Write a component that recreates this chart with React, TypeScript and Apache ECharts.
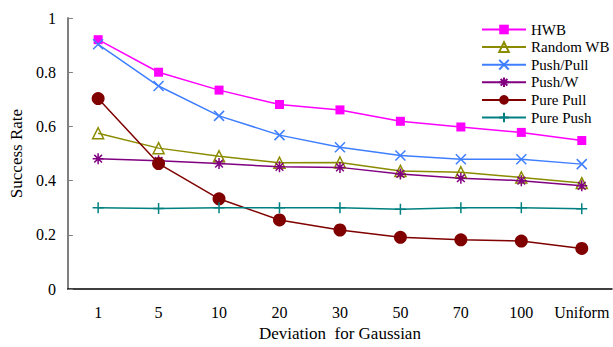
import React, { useEffect, useRef } from "react";
import * as echarts from "echarts";

const categories = ["1", "5", "10", "20", "30", "50", "70", "100", "Uniform"];
const hwb = [0.92, 0.8, 0.734, 0.681, 0.661, 0.619, 0.598, 0.578, 0.548];
const randomWB = [0.575, 0.52, 0.49, 0.466, 0.467, 0.436, 0.431, 0.412, 0.391];
const pushPull = [0.903, 0.749, 0.639, 0.568, 0.523, 0.493, 0.479, 0.479, 0.461];
const pushW = [0.481, 0.473, 0.463, 0.451, 0.449, 0.425, 0.409, 0.4, 0.381];
const purePull = [0.703, 0.463, 0.333, 0.255, 0.218, 0.191, 0.182, 0.177, 0.15];
const purePush = [0.3, 0.297, 0.3, 0.3, 0.3, 0.295, 0.3, 0.3, 0.296];
const yTicks = [0, 0.2, 0.4, 0.6, 0.8, 1];

const FONT = "Liberation Serif";

const XPATH = "path://M0,0L10,10M10,0L0,10";
const STAR = "path://M0,5L10,5M5,0L5,10M1.5,1.5L8.5,8.5M8.5,1.5L1.5,8.5";
const PLUS = "path://M0,5L10,5M5,0L5,10";

export default function App() {
  const ref = useRef<HTMLDivElement>(null);
  useEffect(() => {
    if (!ref.current) return;
    const chart = echarts.init(ref.current, undefined, { renderer: "svg" });
    const mk = (
      name: string,
      data: number[],
      color: string,
      symbol: string,
      size: number,
      stroke: boolean
    ) => ({
      name,
      type: "line",
      data,
      symbol,
      symbolSize: size,
      showAllSymbol: true,
      lineStyle: { color, width: 1.5 },
      itemStyle: stroke
        ? { color: "none", borderColor: color, borderWidth: 1.5 }
        : { color, borderWidth: 0 },
      emphasis: { disabled: true },
    });
    chart.setOption({
      animation: false,
      backgroundColor: "#ffffff",
      grid: { left: 64, top: 18, right: 1, bottom: 52, containLabel: false },
      legend: {
        orient: "vertical",
        left: 476,
        top: 17,
        itemWidth: 44,
        itemHeight: 12,
        itemGap: 2.6,
        textStyle: { fontFamily: FONT, fontSize: 15, color: "#000" },
        data: ["HWB", "Random WB", "Push/Pull", "Push/W", "Pure Pull", "Pure Push"],
      },
      xAxis: {
        type: "category",
        data: categories,
        boundaryGap: true,
        name: "Deviation  for Gaussian",
        nameLocation: "middle",
        nameGap: 34,
        nameTextStyle: { fontFamily: FONT, fontSize: 17, color: "#000" },
        axisLine: { lineStyle: { color: "#000", width: 1.5 } },
        axisTick: { inside: true, length: 5, lineStyle: { color: "#000" } },
        axisLabel: { fontFamily: FONT, fontSize: 16, color: "#000", margin: 15, interval: 0 },
        splitLine: { show: false },
      },
      yAxis: {
        type: "value",
        min: yTicks[0],
        max: yTicks[yTicks.length - 1],
        interval: 0.2,
        name: "Success Rate",
        nameLocation: "middle",
        nameGap: 40,
        nameTextStyle: { fontFamily: FONT, fontSize: 17, color: "#000" },
        axisLine: { show: true, lineStyle: { color: "#808080", width: 2 } },
        axisTick: { show: true, inside: true, length: 5, lineStyle: { color: "#808080" } },
        axisLabel: {
          fontFamily: FONT,
          fontSize: 16,
          color: "#000",
          margin: 12,
          formatter: (v: number) => String(Math.round(v * 10) / 10),
        },
        splitLine: { show: false },
      },
      series: [
        mk("HWB", hwb, "#ff00ff", "rect", 9, false),
        mk("Random WB", randomWB, "#8b8b00", "triangle", 11, true),
        mk("Push/Pull", pushPull, "#3f7fff", XPATH, 10, true),
        mk("Push/W", pushW, "#800080", STAR, 11, true),
        mk("Pure Pull", purePull, "#800000", "circle", 13, false),
        mk("Pure Push", purePush, "#008080", PLUS, 11, true),
      ],
    });
    return () => chart.dispose();
  }, []);
  return (
    <div
      ref={ref}
      style={{ position: "fixed", left: 0, top: 0, width: 613, height: 347 }}
    />
  );
}
